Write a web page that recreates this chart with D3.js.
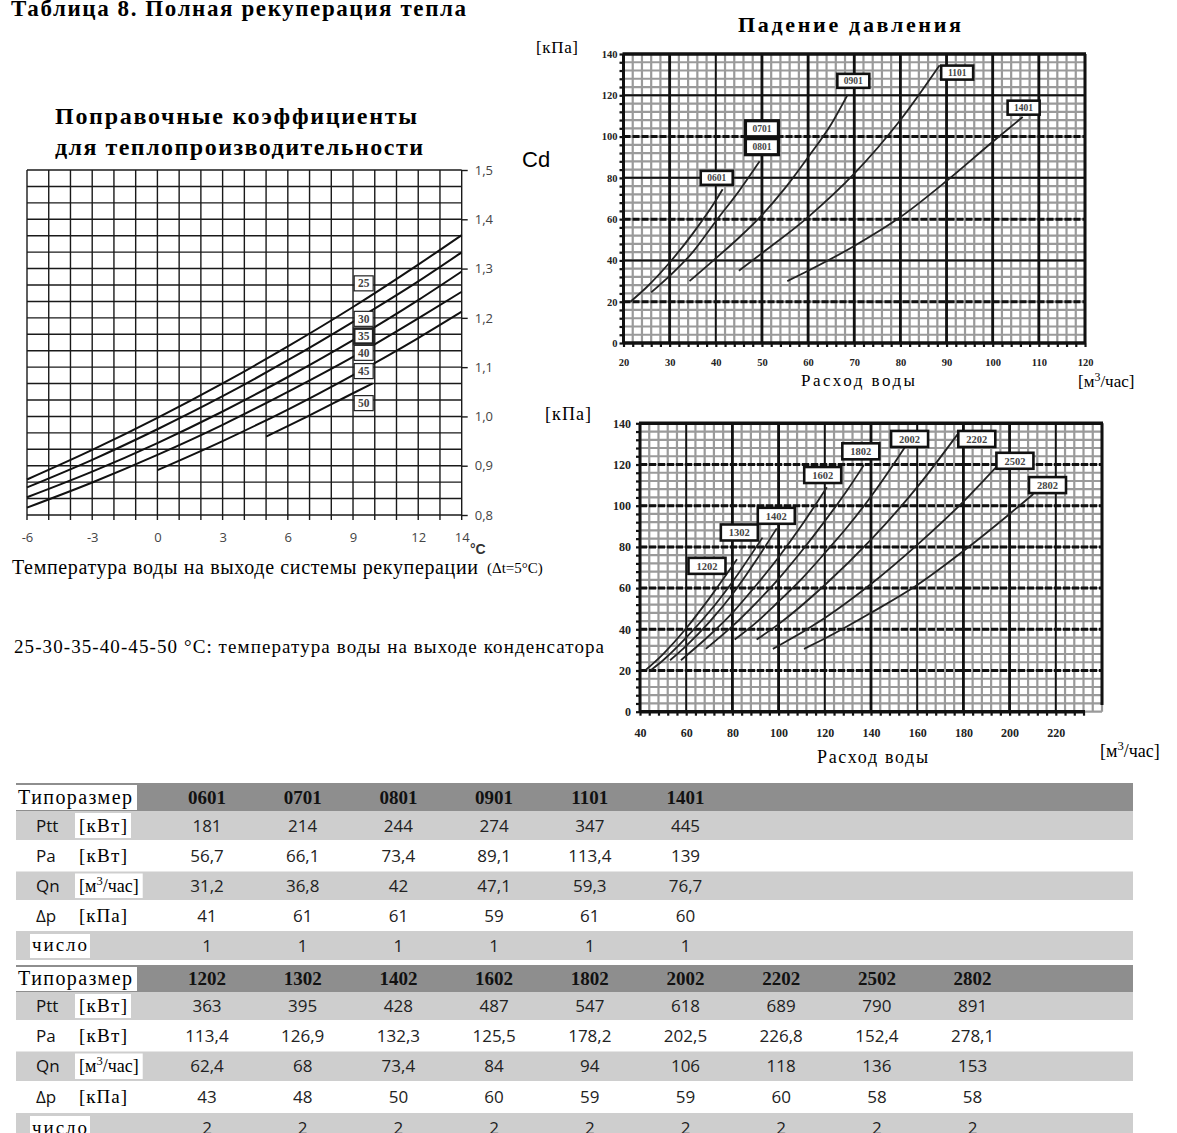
<!DOCTYPE html>
<html><head><meta charset="utf-8">
<script src="https://cdn.jsdelivr.net/npm/d3@7"></script>
<style>html,body{margin:0;padding:0;background:#fff;}svg{display:block;}</style>
</head><body>
<svg id="c" width="1177" height="1133"></svg>
<script>
// ---------------- DATA ----------------
// Correction factors Cd vs water outlet temperature (°C), per condenser temp
const cdTemps = ["25","30","35","40","45","50"];
const cd25 = [[-6,0.872],[-3,0.932],[0,0.997],[3,1.067],[6,1.142],[9,1.222],[12,1.308],[14,1.368]];
const cd30 = [[-6,0.856],[-3,0.912],[0,0.974],[3,1.041],[6,1.114],[9,1.192],[12,1.274],[14,1.333]];
const cd35 = [[-6,0.836],[-3,0.888],[0,0.946],[3,1.010],[6,1.080],[9,1.155],[12,1.236],[14,1.294]];
const cd40 = [[-6,0.815],[-3,0.866],[0,0.922],[3,0.983],[6,1.050],[9,1.121],[12,1.199],[14,1.253]];
const cd45 = [[0,0.891],[3,0.950],[6,1.014],[9,1.084],[12,1.159],[14,1.2125]];
const cd50 = [[5,0.959],[7,1.002],[9,1.047],[9.9,1.067]];
const cdLabelT = 9.49;
const cdLabelV = [1.270,1.198,1.163,1.129,1.092,1.027];
const cdXTicks = [-6,-3,0,3,6,9,12,14];
const cdYTicks = [0.8,0.9,1.0,1.1,1.2,1.3,1.4,1.5];

// Pressure drop, small units (flow m3/h, kPa)
const p0601 = [[21.5,20],[25,27],[30,39],[35,53],[40,69],[41.5,74.5]];
const p0701 = [[26,24.5],[30,32.5],[35,44],[40,59],[45,73.5],[49.5,88]];
const p0901 = [[34.3,30],[40,41],[45,51],[50,62],[55,75],[60,90],[65,106],[68.5,120]];
const p1101 = [[45,35],[50,43.5],[60,61],[70,82],[80,108],[88.5,134.5]];
const p1401 = [[55.5,30],[60,35],[70,47],[80,61],[90,78.5],[100,97.5],[106.5,109.5]];
const topLabels = [["0601",40.2,80],["0901",69.8,127],["1101",92.3,131],["1401",106.7,114]];
const topDouble = [["0701",50,103.8],["0801",50,95.1]];
const topXTicks = [20,30,40,50,60,70,80,90,100,110,120];
const topYTicks = [0,20,40,60,80,100,120,140];

// Pressure drop, large units
const p1202 = [[42.5,20.3],[50,28],[60,40.5],[70,55],[82,74]];
const p1302 = [[44.8,20.3],[50,25],[60,36],[70,48.5],[80,63],[93,84.5]];
const p1402 = [[53,25],[60,32],[70,43.5],[80,57],[90,73],[99.2,89]];
const p1602 = [[57.7,25],[70,37],[80,48],[90,61],[100,75],[110,90.5],[120.9,109]];
const p1802 = [[68.5,30.5],[80,41.5],[90,52.5],[100,64.5],[110,78],[120,92.5],[130,108],[136.9,119.7]];
const p2002 = [[81,35],[90,43],[100,53.5],[110,64.5],[120,77],[130,90],[140,104.5],[150,120.5],[156.7,131.9]];
const p2202 = [[90.5,35],[100,42.5],[120,61.5],[140,83.5],[160,109],[177.7,135]];
const p2502 = [[97.5,30.5],[100,32],[120,45.5],[140,62],[160,81],[180,102],[194.3,118.9]];
const p2802 = [[111,30.5],[120,35.5],[140,48],[160,61.5],[180,78],[200,96],[210.3,105.7]];
const botLabels = [["1202",69,70.8],["1302",83,87],["1402",99,95.1],["1602",119.1,114.9],["1802",135.6,126.4],
                   ["2002",156.7,132.4],["2202",185.8,132.4],["2502",202.3,121.8],["2802",216.4,110]];
const botXTicks = [40,60,80,100,120,140,160,180,200,220];
const botYTicks = [0,20,40,60,80,100,120,140];

// Table
const rowNames = ["Ptt","Pa","Qn","Δp","число"];
const rowUnits = ["[кВт]","[кВт]","M3","[кПа]",null];
const models1 = ["0601","0701","0801","0901","1101","1401"];
const ptt1 = [181,214,244,274,347,445];
const pa1 = [56.7,66.1,73.4,89.1,113.4,139];
const qn1 = [31.2,36.8,42,47.1,59.3,76.7];
const dp1 = [41,61,61,59,61,60];
const num1 = [1,1,1,1,1,1];
const models2 = ["1202","1302","1402","1602","1802","2002","2202","2502","2802"];
const ptt2 = [363,395,428,487,547,618,689,790,891];
const pa2 = [113.4,126.9,132.3,125.5,178.2,202.5,226.8,152.4,278.1];
const qn2 = [62.4,68,73.4,84,94,106,118,136,153];
const dp2 = [43,48,50,60,59,59,60,58,58];
const num2 = [2,2,2,2,2,2,2,2,2];

// ---------------- DRAW ----------------
const svg = d3.select('#c');
svg.append('rect').attr('width',1177).attr('height',1133).attr('fill','#fff');
const SERIF = "'Liberation Serif','DejaVu Serif',serif";
const SANS = "'Open Sans','Liberation Sans',sans-serif";
const ARIAL = "'Liberation Sans',Arial,sans-serif";
const comma = v => String(v).replace('.', ',');

function txt(g, x, y, s, o = {}) {
  const t = g.append('text').attr('x', x).attr('y', y).text(s)
    .attr('font-family', o.ff || SERIF).attr('font-size', o.fs || 16)
    .attr('font-weight', o.fw || 'normal').attr('fill', o.fill || '#000')
    .attr('text-anchor', o.anchor || 'start');
  if (o.len) t.attr('textLength', o.len).attr('lengthAdjust', 'spacing');
  return t;
}
function unitM3(g, x, y, fs) {
  const t = g.append('text').attr('x', x).attr('y', y).attr('font-family', SERIF).attr('font-size', fs).attr('fill','#000');
  t.append('tspan').text('[м');
  t.append('tspan').attr('dy', -fs*0.38).attr('font-size', fs*0.7).text('3');
  t.append('tspan').attr('dy', fs*0.38).text('/час]');
  return t;
}

// Titles
txt(svg, 11, 16, "Таблица 8. Полная рекуперация тепла", {fs:23, fw:'bold', len:455});
txt(svg, 55, 124, "Поправочные коэффициенты", {fs:24, fw:'bold', len:362});
txt(svg, 55, 155, "для теплопроизводительности", {fs:24, fw:'bold', len:368});
txt(svg, 522, 167, "Cd", {ff:ARIAL, fs:22});
txt(svg, 738, 31.7, "Падение давления", {fs:22, fw:'bold', len:223});

// ----- Left chart -----
const xL = d3.scaleLinear().domain([-6,14]).range([27,461.7]);
const yL = d3.scaleLinear().domain([0.8,1.5]).range([515,170]);
const gL = svg.append('g');
gL.selectAll('line.gv').data(d3.range(-6,15)).join('line').attr('class','gv')
  .attr('x1',d=>xL(d)).attr('x2',d=>xL(d)).attr('y1',yL(1.5)).attr('y2',yL(0.8)+5)
  .attr('stroke','#1a1a1a').attr('stroke-width',1.4);
gL.selectAll('line.gh').data(d3.range(0,22).map(i=>0.8+i/30)).join('line').attr('class','gh')
  .attr('x1',xL(-6)).attr('x2',xL(14)).attr('y1',d=>yL(d)).attr('y2',d=>yL(d))
  .attr('stroke','#1a1a1a').attr('stroke-width',1.4);
gL.append('g').attr('transform',`translate(${xL(14)},0)`)
  .call(d3.axisRight(yL).tickValues(cdYTicks).tickSize(6).tickPadding(7).tickFormat(d=>d.toFixed(1).replace('.',',')))
  .call(s=>s.select('.domain').remove())
  .call(s=>s.selectAll('line').attr('stroke','#1a1a1a').attr('stroke-width',1.4))
  .call(s=>s.selectAll('text').attr('font-family',SANS).attr('font-size',13).attr('fill','#444'));
gL.append('g').attr('transform',`translate(0,${yL(0.8)})`)
  .call(d3.axisBottom(xL).tickValues(cdXTicks).tickSize(0).tickFormat(d=>d))
  .call(s=>s.select('.domain').remove())
  .call(s=>s.selectAll('text').attr('y',27).attr('dy',0).attr('font-family',SANS).attr('font-size',13).attr('fill','#444'));
txt(gL, 470, 554, "°C", {ff:ARIAL, fs:14, fw:'bold', fill:'#333'});
const lineL = d3.line().x(d=>xL(d[0])).y(d=>yL(d[1])).curve(d3.curveMonotoneX);
gL.selectAll('path.cd').data([cd25,cd30,cd35,cd40,cd45,cd50]).join('path').attr('class','cd')
  .attr('d',lineL).attr('fill','none').attr('stroke','#111').attr('stroke-width',2);
cdTemps.forEach((t,i)=>{
  const cx = xL(cdLabelT), cy = yL(cdLabelV[i]);
  gL.append('rect').attr('x',cx-9.5).attr('y',cy-7.5).attr('width',19).attr('height',15)
    .attr('fill','#fff').attr('stroke','#222').attr('stroke-width', t==='35'?2.6:1.2);
  txt(gL, cx, cy+4, t, {fs:11.5, fw:'bold', anchor:'middle', fill:'#444'});
});
txt(svg, 12, 574, "Температура воды на выходе системы рекуперации", {fs:20, len:466});
txt(svg, 487, 573, "(Δt=5°C)", {fs:15});
txt(svg, 14, 653, "25-30-35-40-45-50 °C: температура воды на выходе конденсатора", {fs:19, len:590});

// ----- Pressure charts -----
function pressureChart(o) {
  const g = svg.append('g');
  const [x0, x1] = o.x.range(), [yb, yt] = o.y.range();
  g.selectAll('line.mx').data(d3.range(o.xd[0], o.xd[1]+0.001, o.minX)).join('line').attr('class','mx')
    .attr('x1',d=>o.x(d)).attr('x2',d=>o.x(d)).attr('y1',yt).attr('y2',yb)
    .attr('stroke','#9a9a9a').attr('stroke-width',2.2);
  g.selectAll('line.my').data(d3.range(0, 140.001, 4)).join('line').attr('class','my')
    .attr('x1',x0).attr('x2',x1).attr('y1',d=>o.y(d)).attr('y2',d=>o.y(d))
    .attr('stroke','#9a9a9a').attr('stroke-width',2.2);
  g.selectAll('line.Mx').data(o.majX).join('line').attr('class','Mx')
    .attr('x1',d=>o.x(d)).attr('x2',d=>o.x(d)).attr('y1',yt).attr('y2',yb)
    .attr('stroke','#111').attr('stroke-width',d=>o.thinX.includes(d)?1.8:2.8);
  g.selectAll('line.My').data([20,40,60,80,100,120]).join('line').attr('class','My')
    .attr('x1',x0).attr('x2',x1).attr('y1',d=>o.y(d)).attr('y2',d=>o.y(d))
    .attr('stroke','#111').attr('stroke-width',d=>o.dashY.includes(d)?3:2)
    .attr('stroke-dasharray',d=>o.dashY.includes(d)?'7,2':null);
  // frame
  g.append('line').attr('x1',x0-1).attr('x2',x1+1).attr('y1',yt).attr('y2',yt).attr('stroke','#111').attr('stroke-width',3.5);
  g.append('line').attr('x1',x1).attr('x2',x1).attr('y1',yt).attr('y2',o.rightEnd).attr('stroke','#111').attr('stroke-width',3);
  g.append('line').attr('x1',x0).attr('x2',x0).attr('y1',yt).attr('y2',yb+1).attr('stroke','#111').attr('stroke-width',3);
  g.append('line').attr('x1',x0).attr('x2',o.bottomEnd).attr('y1',yb).attr('y2',yb).attr('stroke','#111').attr('stroke-width',3.5);
  // axes
  g.append('g').attr('transform',`translate(${x0},0)`)
    .call(d3.axisLeft(o.y).tickValues(d3.range(0,141,4)).tickSize(4).tickPadding(o.ypad)
      .tickFormat(d=>o.yTicks.includes(d)?d:''))
    .call(s=>s.select('.domain').remove())
    .call(s=>s.selectAll('line').attr('stroke','#111').attr('stroke-width',2.2))
    .call(s=>s.selectAll('text').attr('font-family',SERIF).attr('font-weight','bold').attr('font-size',o.tfs).attr('fill','#222'));
  g.append('g').attr('transform',`translate(0,${yb})`)
    .call(d3.axisBottom(o.x).tickValues(d3.range(o.xd[0], o.axisXEnd+0.001, o.minX)).tickSize(4)
      .tickFormat(d=>o.xTicks.includes(d)?d:''))
    .call(s=>s.select('.domain').remove())
    .call(s=>s.selectAll('line').attr('stroke','#111').attr('stroke-width',2.2))
    .call(s=>s.selectAll('text').attr('y',o.xlab).attr('dy','0.35em').attr('font-family',SERIF)
      .attr('font-weight','bold').attr('font-size',o.tfs).attr('fill','#222'));
  const ln = d3.line().x(d=>o.x(d[0])).y(d=>o.y(d[1])).curve(d3.curveMonotoneX);
  g.selectAll('path.cv').data(o.series).join('path').attr('class','cv')
    .attr('d',ln).attr('fill','none').attr('stroke','#222').attr('stroke-width',1.8);
  o.labels.forEach(([name,vx,vy])=>{
    const cx = o.x(vx), cy = o.y(vy);
    g.append('rect').attr('x',cx-o.bw/2).attr('y',cy-o.bh/2).attr('width',o.bw).attr('height',o.bh)
      .attr('fill','#fff').attr('stroke','#111').attr('stroke-width',2.6);
    txt(g, cx, cy+o.lfs*0.36, name, {fs:o.lfs, fw:'bold', anchor:'middle', fill:'#444'});
  });
  return g;
}

const xT = d3.scaleLinear().domain([20,120]).range([623.5,1085]);
const yT = d3.scaleLinear().domain([0,140]).range([343,54]);
const gT = pressureChart({x:xT, y:yT, xd:[20,120], minX:2, majX:[30,40,50,60,70,80,90,100,110], thinX:[40],
  dashY:[20,60,100], rightEnd:343, bottomEnd:1086, axisXEnd:120, ypad:2, tfs:10.5, xlab:19,
  xTicks:topXTicks, yTicks:topYTicks, series:[p0601,p0701,p0901,p1101,p1401],
  labels:topLabels, bw:32, bh:14, lfs:9.5});
// double label 0701 / 0801
topDouble.forEach(([name,vx,vy])=>{
  const cx = xT(vx), cy = yT(vy);
  gT.append('rect').attr('x',cx-16.5).attr('y',cy-8).attr('width',33).attr('height',16)
    .attr('fill','#fff').attr('stroke','#111').attr('stroke-width',3.2);
  txt(gT, cx, cy+3.4, name, {fs:9.5, fw:'bold', anchor:'middle', fill:'#444'});
});
txt(svg, 536, 53, "[кПа]", {fs:17, len:42});
txt(svg, 801, 386, "Расход воды", {fs:17, len:114});
unitM3(svg, 1078, 387, 17);

const xB = d3.scaleLinear().domain([40,240]).range([640,1102]);
const yB = d3.scaleLinear().domain([0,140]).range([711.7,423.3]);
pressureChart({x:xB, y:yB, xd:[40,240], minX:4, majX:[60,80,100,120,140,160,180,200,220], thinX:[60,120,160,220],
  dashY:[20,40,60,80,100,120], rightEnd:705, bottomEnd:1085, axisXEnd:232, ypad:5, tfs:12, xlab:21.5,
  xTicks:botXTicks, yTicks:botYTicks, series:[p1202,p1302,p1402,p1602,p1802,p2002,p2202,p2502,p2802],
  labels:botLabels, bw:37, bh:16, lfs:10.5});
txt(svg, 545, 420, "[кПа]", {fs:18, len:46});
txt(svg, 817, 763, "Расход воды", {fs:18, len:111});
unitM3(svg, 1100, 757, 18);

// ----- Tables -----
const colX = d3.scaleLinear().domain([0,8]).range([207,972.6]);
function drawTable(top, heights, models, rows) {
  const g = svg.append('g');
  let acc = top;
  const tops = heights.map(h => { const t = acc; acc += h; return t; });
  const fills = ['#8e8e8e','#cecece','#ffffff','#cecece','#ffffff','#cecece'];
  g.selectAll('rect.row').data(heights).join('rect').attr('class','row')
    .attr('x',16).attr('y',(d,i)=>tops[i]).attr('width',1117).attr('height',d=>d).attr('fill',(d,i)=>fills[i]);
  const hc = tops[0] + heights[0]/2;
  g.append('rect').attr('x',16).attr('y',tops[0]+2).attr('width',121).attr('height',heights[0]-3).attr('fill','#fff');
  txt(g, 18, hc+6.5, "Типоразмер", {fs:20, len:114});
  g.selectAll('text.hd').data(models).join('text').attr('class','hd')
    .attr('x',(d,i)=>colX(i)).attr('y',hc+6.5).attr('text-anchor','middle')
    .attr('font-family',SERIF).attr('font-weight','bold').attr('font-size',19).attr('fill','#111').text(d=>d);
  rows.forEach((vals, k) => {
    const ri = k + 1, cy = tops[ri] + heights[ri]/2;
    const name = rowNames[k], unit = rowUnits[k];
    if (unit === null) {
      g.append('rect').attr('x',30).attr('y',tops[ri]+3).attr('width',60).attr('height',heights[ri]-5).attr('fill','#fff');
      txt(g, 32, cy+5.5, name, {fs:19, len:55});
    } else {
      txt(g, 36, cy+6, name, {ff:SANS, fs:17, fill:'#111'});
      let ut;
      if (unit === 'M3') ut = unitM3(g, 79, cy+6, 18);
      else ut = txt(g, 79, cy+6, unit, {fs:19, len:48});
      const bb = ut.node().getBBox();
      g.insert('rect', () => ut.node()).attr('x',bb.x-4).attr('y',tops[ri]+2).attr('width',bb.width+8)
        .attr('height',heights[ri]-4).attr('fill','#fff');
    }
    g.selectAll('text.v'+k).data(vals).join('text').attr('class','v'+k)
      .attr('x',(d,i)=>colX(i)).attr('y',cy+6).attr('text-anchor','middle')
      .attr('font-family',SANS).attr('font-size',17).attr('fill','#222').text(d=>comma(d));
  });
}
drawTable(783, [28,29,31.5,28.5,31,29], models1, [ptt1,pa1,qn1,dp1,num1]);
drawTable(965, [27,28,31.5,29.5,32,30], models2, [ptt2,pa2,qn2,dp2,num2]);
</script>
</body></html>
